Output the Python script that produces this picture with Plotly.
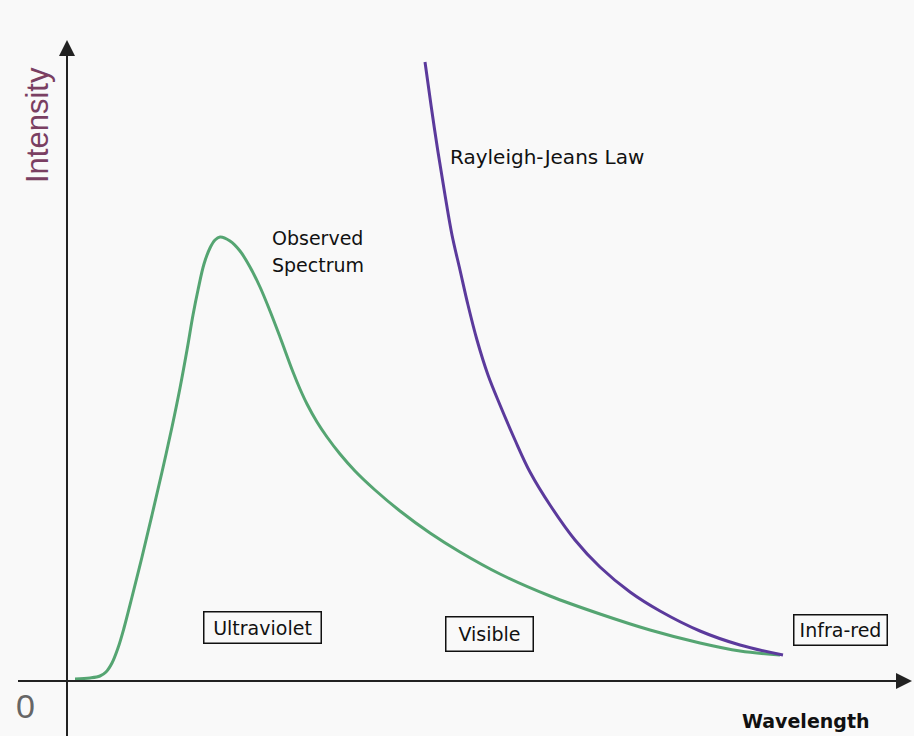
import plotly.graph_objects as go

# Observed spectrum (wavelength, intensity) in chart units
obs_x = [8, 23, 33, 39, 45, 51, 57, 65, 75, 85, 95, 105, 113, 120, 126, 131, 137, 143, 148, 153,
         163, 173, 183, 193, 203, 213, 226, 233, 240, 250, 260, 273, 288, 308, 333, 363, 393, 433,
         483, 533, 583, 633, 673, 713]
obs_y = [2, 3, 5, 9, 18, 33, 53, 84, 124, 166, 209, 254, 293, 331, 366, 391, 417, 433, 441, 444,
         440, 430, 414, 394, 370, 344, 309, 292, 277, 259, 244, 227, 210, 191, 170, 148, 129, 107,
         85, 67, 51, 38, 30, 26]

# Rayleigh-Jeans law
rj_x = [358, 364, 371, 378, 385, 393, 401, 410, 421, 433, 448, 463, 483, 508, 533, 563, 593, 633, 673, 716]
rj_y = [619, 576, 529, 486, 446, 411, 376, 341, 306, 276, 241, 209, 176, 141, 114, 89, 70, 50, 36, 26]

region_labels = ["Ultraviolet", "Visible", "Infra-red"]
region_x = [195, 422, 773]
region_y = [54, 47, 51]
region_w = [114, 84, 90]
region_h = [28, 31, 27]

fig = go.Figure()
fig.add_trace(go.Scatter(x=obs_x, y=obs_y, mode="lines",
                         line=dict(color="#55a572", width=3, shape="spline", smoothing=1),
                         hoverinfo="skip"))
fig.add_trace(go.Scatter(x=rj_x, y=rj_y, mode="lines",
                         line=dict(color="#5b3a9c", width=3, shape="spline", smoothing=1),
                         hoverinfo="skip"))

# axes lines with arrowheads
fig.add_shape(type="line", x0=0, x1=0, y0=-60, y1=625, line=dict(color="#222", width=2))
fig.add_shape(type="line", x0=-49, x1=830, y0=0, y1=0, line=dict(color="#222", width=2))
fig.add_annotation(x=0, y=641, ax=0, ay=600, axref="x", ayref="y", xref="x", yref="y", text="",
                   showarrow=True, arrowhead=2, arrowsize=1.6, arrowwidth=2, arrowcolor="#222")
fig.add_annotation(x=845, y=0, ax=800, ay=0, axref="x", ayref="y", xref="x", yref="y", text="",
                   showarrow=True, arrowhead=2, arrowsize=1.6, arrowwidth=2, arrowcolor="#222")

fig.add_annotation(x=-30, y=556, text="Intensity", textangle=-90, showarrow=False,
                   font=dict(family="Liberation Sans, Arial", size=31, color="#7a3f62"))
fig.add_annotation(x=-42, y=-25, text="0", showarrow=False,
                   font=dict(family="Liberation Sans, Arial", size=34, color="#666"))
fig.add_annotation(x=739, y=-40, text="<b>Wavelength</b>", showarrow=False,
                   font=dict(family="DejaVu Sans, Arial", size=19, color="#111"))
fig.add_annotation(x=203, y=443, text="Observed", showarrow=False, xanchor="left",
                   font=dict(family="DejaVu Sans, Arial", size=19, color="#111"))
fig.add_annotation(x=203, y=416, text="Spectrum", showarrow=False, xanchor="left",
                   font=dict(family="DejaVu Sans, Arial", size=19, color="#111"))
fig.add_annotation(x=381, y=524, text="Rayleigh-Jeans Law", showarrow=False, xanchor="left",
                   font=dict(family="DejaVu Sans, Arial", size=20, color="#111"))
for t, x, y, w, h in zip(region_labels, region_x, region_y, region_w, region_h):
    fig.add_annotation(x=x, y=y, text=t, showarrow=False, bordercolor="#111", borderwidth=1.5,
                       borderpad=1, width=w, height=h,
                       font=dict(family="DejaVu Sans, Arial", size=19, color="#111"))

fig.update_layout(width=914, height=736, margin=dict(l=0, r=0, t=0, b=0),
                  paper_bgcolor="#f9f9f9", plot_bgcolor="#f9f9f9", showlegend=False,
                  xaxis=dict(range=[-67, 847], visible=False, fixedrange=True),
                  yaxis=dict(range=[-55, 681], visible=False, fixedrange=True))
fig.write_html("out.html", config={"displayModeBar": False},
               post_script="document.body.style.margin='0';"
                           "document.body.style.overflow='hidden';"
                           "document.documentElement.style.overflow='hidden';")
